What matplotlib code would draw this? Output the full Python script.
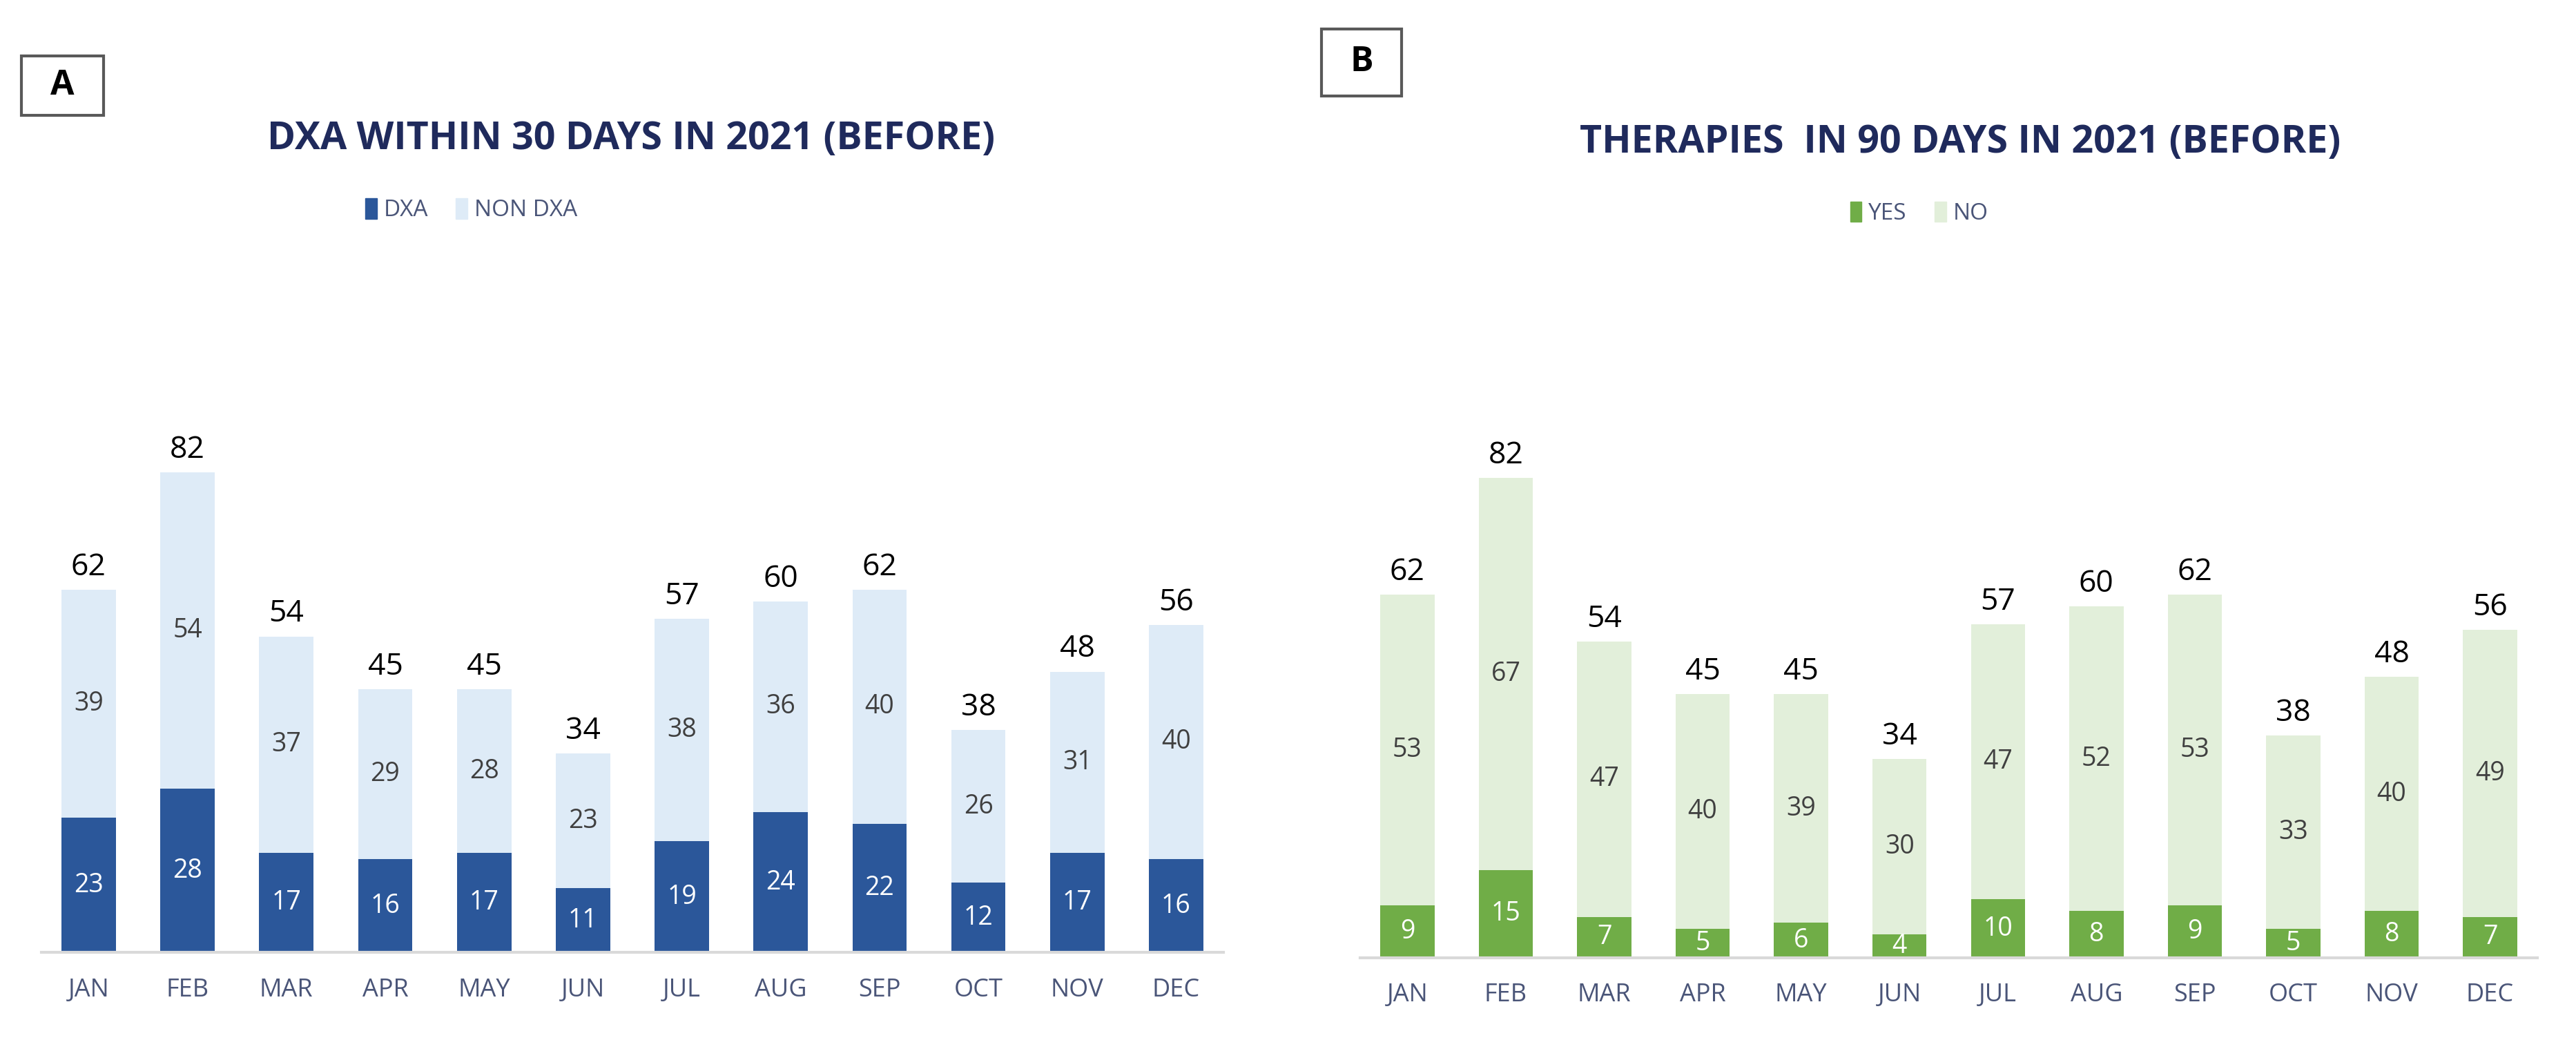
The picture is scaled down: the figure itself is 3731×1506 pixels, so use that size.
import matplotlib
matplotlib.use("Agg")
import matplotlib.pyplot as plt
from matplotlib import font_manager
from matplotlib.patches import Rectangle

months = ["JAN", "FEB", "MAR", "APR", "MAY", "JUN", "JUL", "AUG", "SEP", "OCT", "NOV", "DEC"]

# panel A
dxa = [23, 28, 17, 16, 17, 11, 19, 24, 22, 12, 17, 16]
non_dxa = [39, 54, 37, 29, 28, 23, 38, 36, 40, 26, 31, 40]
# panel B
yes = [9, 15, 7, 5, 6, 4, 10, 8, 9, 5, 8, 7]
no = [53, 67, 47, 40, 39, 30, 47, 52, 53, 33, 40, 49]

avail = {f.name for f in font_manager.fontManager.ttflist}
fam = [f for f in ["Liberation Sans Narrow", "Open Sans", "DejaVu Sans"] if f in avail]
plt.rcParams['font.family'] = fam

NAVY = "#1f2a5c"
MONTH_C = "#4a5578"

fig = plt.figure(figsize=(37.31, 15.06), dpi=100)


def panel(rect, low, high, c_low, c_high, title, names, title_xy, leg_xy, letter, box):
    ax = fig.add_axes(rect)
    x = list(range(len(months)))
    tot = [a + b for a, b in zip(low, high)]
    ax.bar(x, low, width=0.55, color=c_low, edgecolor="none")
    ax.bar(x, high, width=0.55, bottom=low, color=c_high, edgecolor="none")
    for i in x:
        ax.text(i, low[i] / 2, str(low[i]), ha="center", va="center",
                color="white", fontsize=27)
        ax.text(i, low[i] + high[i] / 2, str(high[i]), ha="center", va="center",
                color="#404040", fontsize=27)
        ax.text(i, tot[i] + 1.2, str(tot[i]), ha="center", va="bottom",
                color="black", fontsize=32)
    ax.set_ylim(0, 100)
    ax.set_xlim(-0.48, 11.48)
    for s in ["top", "right", "left"]:
        ax.spines[s].set_visible(False)
    ax.spines["bottom"].set_color("#d9d9d9")
    ax.spines["bottom"].set_linewidth(3)
    ax.set_yticks([])
    ax.set_xticks(x)
    ax.set_xticklabels(months, fontsize=26, color=MONTH_C)
    ax.tick_params(axis="x", length=0, pad=26)

    fig.text(title_xy[0], title_xy[1], title, ha="center", va="center",
             fontsize=40, fontweight="bold", color=NAVY)
    # legend
    lx, ly = leg_xy
    h1 = Rectangle((0, 0), 1, 1, color=c_low)
    h2 = Rectangle((0, 0), 1, 1, color=c_high)
    fig.legend([h1, h2], names, loc="center", bbox_to_anchor=(lx, ly), ncol=2,
               frameon=False, fontsize=24, labelcolor=MONTH_C,
               handlelength=0.5, handleheight=1.0, handletextpad=0.3, columnspacing=1.2)
    # letter box
    bx, by, bw, bh = box
    fig.patches.append(Rectangle((bx, by), bw, bh, transform=fig.transFigure,
                                 fill=False, edgecolor="#595959", linewidth=3))
    fig.text(bx + bw / 2, by + bh / 2, letter, ha="center", va="center",
             fontsize=36, fontweight="bold", color="black")


panel([0.016, 0.084, 0.459, 0.563], dxa, non_dxa, "#2b579a", "#deebf7",
      "DXA WITHIN 30 DAYS IN 2021 (BEFORE)", ["DXA", "NON DXA"],
      (0.245, 0.866), (0.183, 0.798), "A", (0.0083, 0.889, 0.032, 0.057))
panel([0.528, 0.079, 0.457, 0.563], yes, no, "#70ad47", "#e2efda",
      "THERAPIES  IN 90 DAYS IN 2021 (BEFORE)", ["YES", "NO"],
      (0.761, 0.863), (0.745, 0.795), "B", (0.513, 0.908, 0.031, 0.064))

fig.savefig("out.png", dpi=100)
